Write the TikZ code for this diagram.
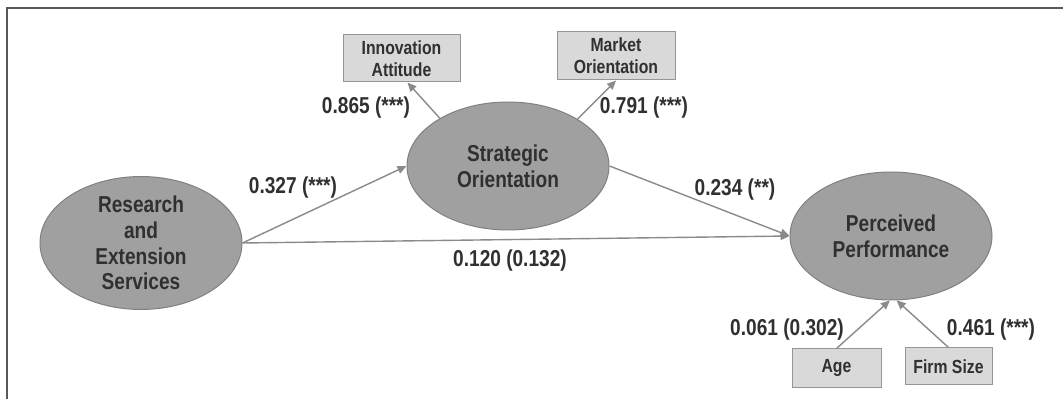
\documentclass[tikz,border=0pt]{standalone}
\usepackage{fontspec}
\setmainfont{Liberation Sans}[FakeStretch=0.83]
\usetikzlibrary{arrows.meta,shapes.geometric}
\definecolor{lvFill}{RGB}{160,160,160}
\definecolor{lvLine}{RGB}{128,128,128}
\definecolor{obFill}{RGB}{217,217,217}
\definecolor{obLine}{RGB}{150,150,150}
\definecolor{pathC}{RGB}{138,138,138}
\definecolor{inkC}{RGB}{48,48,48}
\newcommand{\EW}{202pt}
\newcommand{\EH}{128pt}
\newcommand{\lvfont}{\fontsize{23}{25.7}\selectfont\bfseries}
\newcommand{\obfont}{\fontsize{19}{22}\selectfont\bfseries}

\begin{document}
\begin{tikzpicture}[
    x=1pt, y=1pt,
    latent/.style={ellipse, draw=lvLine, line width=1pt, fill=lvFill,
      minimum width=\EW, minimum height=\EH, inner sep=0pt,
      align=center, text=inkC, font=\lvfont},
    obs/.style={rectangle, draw=obLine, line width=1pt, fill=obFill,
      inner sep=0pt, align=center, text=inkC, font=\obfont},
    coef/.style={text=inkC, font=\lvfont, inner sep=0pt},
    path/.style={draw=pathC, line width=1.4pt,
      -{Triangle[length=9pt,width=8pt]}},
    frame/.style={draw=black!65, line width=2pt},
  ]
  \useasboundingbox (0,0) rectangle (1063,399);

  %% ================= frame (only top and left edges show) =================
  \draw[frame] (7,0) -- (7,391) -- (1063,391);

  %% ================= latent variables =================
  \node[latent] (res)  at (141,156) {Research\\and\\Extension\\Services};
  \node[latent] (strat) at (508,233) {Strategic\\Orientation};
  \node[latent] (perf) at (891,163) {Perceived\\Performance};

  %% ================= observed indicators and controls =================
  \node[obs, minimum width=117pt, minimum height=47pt] (innov)  at (401.5,340.5) {Innovation\\Attitude};
  \node[obs, minimum width=118pt, minimum height=48pt] (market) at (616,343) {Market\\Orientation};
  \node[obs, minimum width=89pt, minimum height=38pt] (age)  at (836.5,31) {Age};
  \node[obs, minimum width=87pt, minimum height=37pt] (firm) at (948.5,32.5) {Firm Size};

  %% ================= paths =================
  \draw[path] (strat.145) -- ([xshift=6pt]innov.south);
  \draw[path] (strat.34) -- (market.south);
  \draw[path] (res.east) -- (strat.west);
  \draw[path] (res.east) -- (perf.west);
  \draw[path] (strat.east) -- (perf.west);
  \draw[path] (age.north) -- (perf.269);
  \draw[path] (firm.north) -- (perf.275);

  %% ================= coefficients =================
  \node[coef] (cInnov)  at (366,291) {0.865 (***)};
  \node[coef] (cMarket) at (644,291) {0.791 (***)};
  \node[coef] (cRS)     at (293,211) {0.327 (***)};
  \node[coef] (cSP)     at (735,209) {0.234 (**)};
  \node[coef] (cRP)     at (510,138) {0.120 (0.132)};
  \node[coef] (cAge)    at (787,69)  {0.061 (0.302)};
  \node[coef] (cFirm)   at (991,69)  {0.461 (***)};

\end{tikzpicture}
\end{document}
